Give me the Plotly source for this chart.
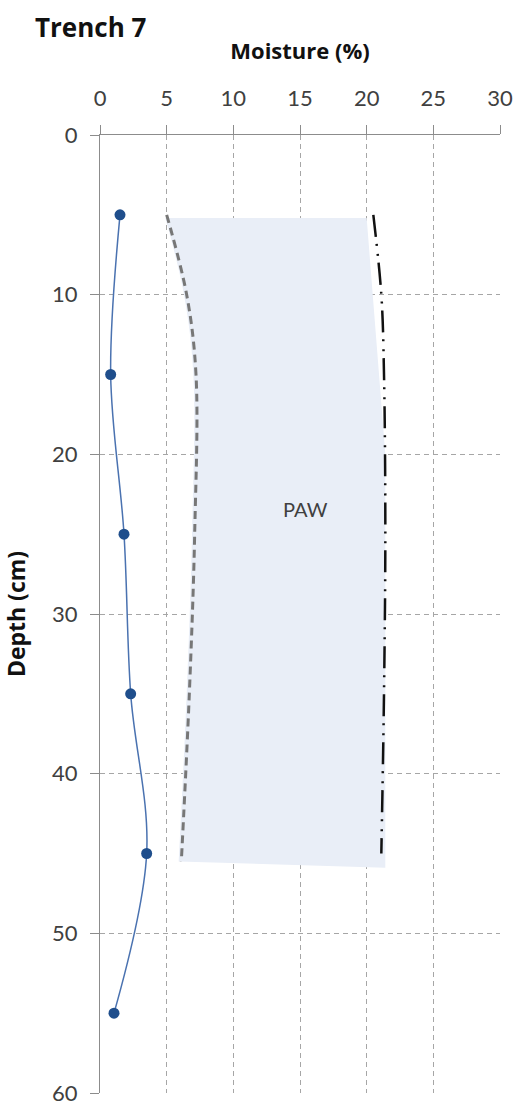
import plotly.graph_objects as go

# Measured soil moisture (blue)
depth_meas = [5, 15, 25, 35, 45, 55]
moist_meas = [1.5, 0.8, 1.8, 2.3, 3.5, 1.05]

# Wilting point (grey dashed)
depth_wp = [5, 10, 15, 25, 35, 45.5]
moist_wp = [5.0, 6.5, 7.2, 7.1, 6.7, 6.1]

# Field capacity (black dash-dot)
depth_fc = [5, 10, 15, 25, 35, 45]
moist_fc = [20.5, 21.1, 21.3, 21.4, 21.3, 21.1]

# PAW band boundaries
paw_left_depth = [5.2, 10, 15, 25, 35, 45.5]
paw_left_moist = [4.9, 6.3, 7.0, 6.9, 6.5, 5.9]
paw_right_depth = [5.2, 20, 45.9]
paw_right_moist = [20.0, 21.4, 21.4]

x_ticks = [0, 5, 10, 15, 20, 25, 30]
y_ticks = [0, 10, 20, 30, 40, 50, 60]

FONT = "Lato"
TFONT = "Open Sans"
TXT = "#404040"

W, H = 517, 1105

fig = go.Figure()

fig.add_trace(go.Scatter(x=paw_left_moist, y=paw_left_depth, mode="lines",
                         line=dict(width=0, shape="spline"), hoverinfo="skip",
                         showlegend=False))
fig.add_trace(go.Scatter(x=paw_right_moist, y=paw_right_depth, mode="lines",
                         line=dict(width=0), fill="tonextx",
                         fillcolor="#e9eef7", hoverinfo="skip", showlegend=False))

fig.add_trace(go.Scatter(x=moist_wp, y=depth_wp, mode="lines",
                         line=dict(color="#777777", width=3, dash="8px,5px", shape="spline"),
                         showlegend=False))
fig.add_trace(go.Scatter(x=moist_fc, y=depth_fc, mode="lines",
                         line=dict(color="#111111", width=2.5,
                                   dash="22px,7px,2px,8px,2px,7px", shape="spline"),
                         showlegend=False))
fig.add_trace(go.Scatter(x=moist_meas, y=depth_meas, mode="lines+markers",
                         line=dict(color="#4a72b0", width=1.5, shape="spline", smoothing=1),
                         marker=dict(color="#1f4e8c", size=11),
                         showlegend=False))

fig.add_annotation(x=15.4, y=23.4, text="PAW", showarrow=False,
                   font=dict(family=FONT, size=20, color=TXT))

fig.update_layout(
    width=W, height=H,
    margin=dict(l=100, r=17, t=135, b=12, autoexpand=False),
    paper_bgcolor="white", plot_bgcolor="white",
    title=dict(text="<b>Trench 7</b>", x=35 / W, xanchor="left", y=1 - 28 / H, yanchor="middle",
               font=dict(family=TFONT, size=26, color="#111111")),
    font=dict(family=FONT, color=TXT),
)

grid = dict(showgrid=True, gridcolor="#a6a6a6", gridwidth=1, griddash="5px,4px",
            zeroline=False, showline=True, linecolor="#8c8c8c", linewidth=1.3,
            ticks="outside", tickcolor="#8c8c8c", ticklen=9, automargin=False,
            ticklabeloverflow="allow")

fig.update_xaxes(range=[0, 30], side="top", tickvals=x_ticks,
                 tickfont=dict(family=FONT, size=22, color=TXT),
                 ticklabelstandoff=10,
                 title=dict(text="<b>Moisture (%)</b>", standoff=18,
                            font=dict(family=TFONT, size=22, color="#111111")),
                 **grid)
fig.update_yaxes(range=[60, 0], tickvals=y_ticks,
                 tickfont=dict(family=FONT, size=22, color=TXT),
                 ticklabelstandoff=8,
                 title=dict(text="<b>Depth (cm)</b>", standoff=19,
                            font=dict(family=TFONT, size=23, color="#111111")),
                 **grid)

fig.write_html("out.html",
               config={"displayModeBar": False},
               post_script="document.body.style.margin='0';document.body.style.overflow='hidden';")
